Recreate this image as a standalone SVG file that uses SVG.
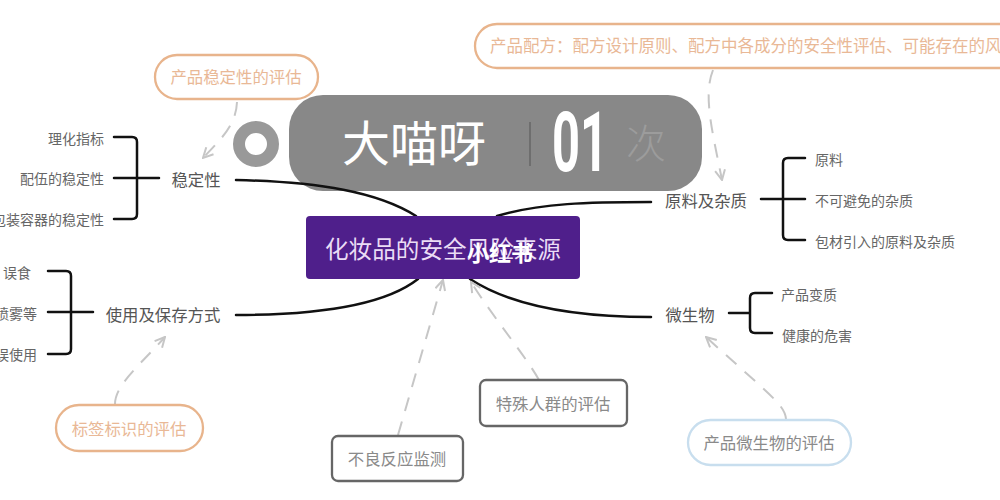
<svg xmlns="http://www.w3.org/2000/svg" width="1000" height="500" viewBox="0 0 1000 500">
<style>
text{font-family:"Noto Sans CJK SC","Liberation Sans",sans-serif}
.lbl{font-size:16.4px;fill:#555;text-anchor:middle;dominant-baseline:central}
.leaf{font-size:14px;fill:#666;dominant-baseline:central}
.end{text-anchor:end}
.eval{font-size:16.4px;text-anchor:middle;dominant-baseline:central}
.or{fill:#e9b896}
.gr{fill:#8a8a8a}
.pill{fill:#fff;stroke:#e8b48c;stroke-width:2.3}
.box{fill:#fff;stroke:#666;stroke-width:2.3}
.main{fill:none;stroke:#111;stroke-width:2.5;stroke-linecap:round}
.dash{fill:none;stroke:#c6c6c6;stroke-width:2;stroke-dasharray:14 11;marker-end:url(#a)}
</style>
<defs>
<marker id="a" viewBox="0 0 12 12" refX="11" refY="6" markerWidth="12" markerHeight="12" markerUnits="userSpaceOnUse" orient="auto">
<path d="M1 1L11 6L1 11" fill="none" stroke="#c6c6c6" stroke-width="2"/>
</marker>
</defs>
<rect width="1000" height="500" fill="#fff"/>
<g id="overlay">
<circle cx="256" cy="144" r="17" fill="#fff" stroke="#999" stroke-width="12"/>
<rect x="289" y="95" width="413" height="96" rx="34" fill="#888"/>
<text x="414" y="140" font-size="48" fill="#fff" text-anchor="middle" dominant-baseline="central">大喵呀</text>
<rect x="529" y="122" width="2" height="44" fill="#6e6e6e"/>
<text x="552" y="171" font-size="84" font-weight="700" fill="#fff" textLength="56" lengthAdjust="spacingAndGlyphs" style="font-family:'Roboto','Liberation Sans',sans-serif">01</text>
<text x="646" y="141" font-size="40" fill="#9c9c9c" text-anchor="middle" dominant-baseline="central" font-weight="300">次</text>
</g>
<g id="connectors">
<path class="main" d="M236 180C320 182 378 192 416 216"/>
<path class="main" d="M236 315C320 315 385 305 418 279"/>
<path class="main" d="M497 216C540 203 590 202 651 202"/>
<path class="main" d="M470 279C510 305 570 317 651 317"/>
<path class="main" d="M114 137H132Q137 137 137 142V214Q137 219 132 219H114M114 178H159"/>
<path class="main" d="M48 271H66Q71 271 71 276V349Q71 354 66 354H48M48 312H93"/>
<path class="main" d="M805 158H788Q783 158 783 163V235Q783 240 788 240H805M761 199H805"/>
<path class="main" d="M772 293H755Q750 293 750 298V328Q750 333 755 333H772M729 313H750"/>
<path class="dash" d="M237 102C236 125 222 138 203 158"/>
<path class="dash" d="M713 70C703 95 712 130 722 180"/>
<path class="dash" d="M115 404C115 385 140 365 165 337"/>
<path class="dash" d="M539 380C525 355 495 320 471 282"/>
<path class="dash" d="M398 435L443 280"/>
<path class="dash" d="M786 419C785 405 770 395 706 337"/>
</g>
<g id="center">
<rect x="306" y="216" width="274" height="63" rx="4" fill="#4f1f8b"/>
<text x="443" y="248" font-size="23.6" fill="#eadcf5" text-anchor="middle" dominant-baseline="central">化妆品的安全风险来源</text>
<text x="500" y="251" font-size="22" font-weight="700" fill="#fff" text-anchor="middle" dominant-baseline="central">小红书</text>
</g>
<g id="n-stability">
<text class="lbl" x="196" y="179">稳定性</text>
<text class="leaf end" x="104" y="137.500">理化指标</text>
<text class="leaf end" x="104" y="177.500">配伍的稳定性</text>
<text class="leaf end" x="104" y="219">包装容器的稳定性</text>
</g>
<g id="n-usage">
<text class="lbl" x="163" y="314">使用及保存方式</text>
<text class="leaf end" x="31" y="272">误食</text>
<text class="leaf end" x="37" y="312.500">喷雾等</text>
<text class="leaf end" x="37" y="353.500">误使用</text>
</g>
<g id="n-raw">
<text class="lbl" x="706" y="200">原料及杂质</text>
<text class="leaf" x="815" y="158.500">原料</text>
<text class="leaf" x="815" y="199.500">不可避免的杂质</text>
<text class="leaf" x="815" y="240.500">包材引入的原料及杂质</text>
</g>
<g id="n-micro">
<text class="lbl" x="690" y="314">微生物</text>
<text class="leaf" x="781" y="293.500">产品变质</text>
<text class="leaf" x="782" y="334.500">健康的危害</text>
</g>
<g id="e-stability">
<rect class="pill" x="155" y="55" width="163" height="44" rx="22"/>
<text class="eval or" x="236" y="76">产品稳定性的评估</text>
</g>
<g id="e-formula">
<rect class="pill" x="475" y="24" width="600" height="44" rx="22"/>
<text class="or" x="490" y="45" font-size="16.5" dominant-baseline="central">产品配方：配方设计原则、配方中各成分的安全性评估、可能存在的风</text>
</g>
<g id="e-label">
<rect class="pill" x="56" y="405" width="147" height="46" rx="23"/>
<text class="eval or" x="129" y="427.500">标签标识的评估</text>
</g>
<g id="e-special">
<rect class="box" x="480" y="380" width="147" height="46" rx="6"/>
<text class="eval gr" x="553" y="402.500">特殊人群的评估</text>
</g>
<g id="e-adverse">
<rect class="box" x="332" y="436" width="131" height="45" rx="6"/>
<text class="eval gr" x="397" y="457.500">不良反应监测</text>
</g>
<g id="e-micro">
<rect x="688" y="420" width="163" height="45" rx="22.5" fill="#fff" stroke="#c8deee" stroke-width="2.3"/>
<text class="eval gr" x="769" y="441.500">产品微生物的评估</text>
</g>
</svg>
